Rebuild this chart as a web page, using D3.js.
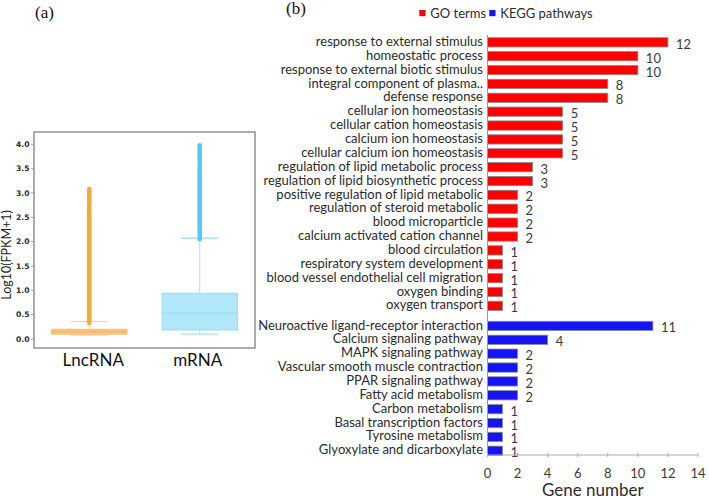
<!DOCTYPE html>
<html><head><meta charset="utf-8">
<script src="https://cdn.jsdelivr.net/npm/d3@7"></script>
<style>html,body{margin:0;padding:0;background:#fff;}svg{display:block;}</style>
</head><body>
<script>
// ---------- Data: panel (a) ----------
const boxCategories = ["LncRNA", "mRNA"];
const boxQ1 = [0.10, 0.185];
const boxMedian = [0.15, 0.53];
const boxQ3 = [0.20, 0.94];
const whiskerLow = [0.08, 0.10];
const whiskerHigh = [0.355, 2.07];
const lncOutlierRanges = [[0.33, 2.58], [2.63, 2.68], [2.74, 3.08]];
const mrnaOutlierRanges = [[2.05, 3.56], [3.61, 3.98]];
const yTicksA = [0, 0.5, 1, 1.5, 2, 2.5, 3, 3.5, 4];

// ---------- Data: panel (b) ----------
const goTerms = ["response to external stimulus", "homeostatic process", "response to external biotic stimulus",
  "integral component of plasma..", "defense response", "cellular ion homeostasis", "cellular cation homeostasis",
  "calcium ion homeostasis", "cellular calcium ion homeostasis", "regulation of lipid metabolic process",
  "regulation of lipid biosynthetic process", "positive regulation of lipid metabolic", "regulation of steroid metabolic",
  "blood microparticle", "calcium activated cation channel", "blood circulation", "respiratory system development",
  "blood vessel endothelial cell migration", "oxygen binding", "oxygen transport"];
const goCounts = [12, 10, 10, 8, 8, 5, 5, 5, 5, 3, 3, 2, 2, 2, 2, 1, 1, 1, 1, 1];
const keggPathways = ["Neuroactive ligand-receptor interaction", "Calcium signaling pathway", "MAPK signaling pathway",
  "Vascular smooth muscle contraction", "PPAR signaling pathway", "Fatty acid metabolism", "Carbon metabolism",
  "Basal transcription factors", "Tyrosine metabolism", "Glyoxylate and dicarboxylate"];
const keggCounts = [11, 4, 2, 2, 2, 2, 1, 1, 1, 1];
const xTicksB = [0, 2, 4, 6, 8, 10, 12, 14];
const legendItems = ["GO terms", "KEGG pathways"];

// ---------- Drawing ----------
const W = 709, H = 499;
const svg = d3.select("body").append("svg").attr("width", W).attr("height", H);
const sans = "Lato, 'Open Sans', sans-serif";

// Panel labels
svg.append("text").attr("x", 35).attr("y", 18).attr("font-family", "'Liberation Serif', serif")
  .attr("font-size", 17).attr("fill", "#111").text("(a)");
svg.append("text").attr("x", 286).attr("y", 14).attr("font-family", "'Liberation Serif', serif")
  .attr("font-size", 17).attr("fill", "#111").text("(b)");

// ===== Panel (a) =====
const frame = {x0: 34, x1: 255, y0: 132, y1: 348};
const yA = d3.scaleLinear().domain([0, 4]).range([339, 144.3]);
const xA = d3.scaleBand().domain(boxCategories).range([frame.x0, frame.x1]).paddingInner(0.32).paddingOuter(0.16);
const colA = [
  {strip: "#F3AA3C", box: "#F6C77F", boxStroke: "#F3BD6C", med: "#F0B560", cap: "#F8D6A3"},
  {strip: "#55C9EF", box: "#B0E8F9", boxStroke: "#93DDF4", med: "#8FDBF3", cap: "#A6E3F6"}
];
const gA = svg.append("g");
// y axis ticks & labels
yTicksA.forEach(t => {
  gA.append("line").attr("x1", 31).attr("x2", frame.x0).attr("y1", yA(t)).attr("y2", yA(t))
    .attr("stroke", "#888").attr("stroke-width", 0.8);
  gA.append("text").attr("x", 29.5).attr("y", yA(t)).attr("dy", "0.35em").attr("text-anchor", "end")
    .attr("font-family", "'DejaVu Sans', sans-serif").attr("font-weight", "bold").attr("font-size", 7.6)
    .attr("fill", "#2a2a2a").text(t.toFixed(1));
});
gA.append("text").attr("transform", "translate(11,255) rotate(-90)").attr("text-anchor", "middle")
  .attr("font-family", sans).attr("font-size", 12.5).attr("fill", "#222").text("Log10(FPKM+1)");

boxCategories.forEach((c, i) => {
  const cx = xA(c) + xA.bandwidth() / 2;
  const bw = xA.bandwidth();
  const col = colA[i];
  // whisker line
  gA.append("line").attr("x1", cx).attr("x2", cx).attr("y1", yA(whiskerLow[i])).attr("y2", yA(whiskerHigh[i]))
    .attr("stroke", col.cap).attr("stroke-width", 1);
  // caps
  [whiskerLow[i], whiskerHigh[i]].forEach(v => {
    gA.append("line").attr("x1", cx - bw / 4).attr("x2", cx + bw / 4).attr("y1", yA(v)).attr("y2", yA(v))
      .attr("stroke", col.cap).attr("stroke-width", 1.3);
  });
  // box
  gA.append("rect").attr("x", cx - bw / 2).attr("width", bw)
    .attr("y", yA(boxQ3[i])).attr("height", yA(boxQ1[i]) - yA(boxQ3[i]))
    .attr("fill", col.box).attr("stroke", col.boxStroke).attr("stroke-width", 1);
  gA.append("line").attr("x1", cx - bw / 2).attr("x2", cx + bw / 2).attr("y1", yA(boxMedian[i])).attr("y2", yA(boxMedian[i]))
    .attr("stroke", col.med).attr("stroke-width", 1);
  // outliers (dense strip of points)
  const ranges = i === 0 ? lncOutlierRanges : mrnaOutlierRanges;
  ranges.forEach(r => {
    gA.append("line").attr("x1", cx).attr("x2", cx).attr("y1", yA(r[0])).attr("y2", yA(r[1]))
      .attr("stroke", col.strip).attr("stroke-width", 4.6).attr("stroke-linecap", "round");
  });
  // category label
  gA.append("text").attr("x", cx + (i === 0 ? 4 : -2)).attr("y", 366).attr("text-anchor", "middle")
    .attr("font-family", sans).attr("font-size", 17).attr("fill", "#111").text(c);
});
gA.append("rect").attr("x", frame.x0).attr("y", frame.y0).attr("width", frame.x1 - frame.x0)
  .attr("height", frame.y1 - frame.y0).attr("fill", "none").attr("stroke", "#8a8a8a").attr("stroke-width", 1.4);

// ===== Panel (b) =====
const xB = d3.scaleLinear().domain([0, 14]).range([487.5, 698]);
const step = 13.87;
const yGO = d3.scaleBand().domain(goTerms).range([35.4, 35.4 + step * goTerms.length]).paddingInner(0.33).paddingOuter(0.165);
const yKG = d3.scaleBand().domain(keggPathways).range([319.0, 319.0 + step * keggPathways.length]).paddingInner(0.33).paddingOuter(0.165);
const axisY = 455;
const gB = svg.append("g");

function drawGroup(labels, counts, yS, color) {
  labels.forEach((lab, i) => {
    const y = yS(lab), h = yS.bandwidth(), cy = y + h / 2;
    gB.append("rect").attr("x", xB(0)).attr("y", y).attr("width", xB(counts[i]) - xB(0)).attr("height", h)
      .attr("fill", color).attr("stroke", "#8c8c8c").attr("stroke-width", 0.8);
    gB.append("text").attr("x", xB(0) - 4.5).attr("y", cy + 3.6).attr("text-anchor", "end")
      .attr("font-family", sans).attr("font-size", 13).attr("fill", "#2b2b2b").text(lab);
    gB.append("text").attr("x", xB(counts[i]) + 8).attr("y", cy + 6.5)
      .attr("font-family", sans).attr("font-size", 13).attr("fill", "#3a3a3a").text(counts[i]);
  });
}
drawGroup(goTerms, goCounts, yGO, "#FF0000");
drawGroup(keggPathways, keggCounts, yKG, "#1414F5");

// axes lines
gB.append("line").attr("x1", xB(0)).attr("x2", xB(0)).attr("y1", 35).attr("y2", axisY)
  .attr("stroke", "#999").attr("stroke-width", 1);
gB.append("line").attr("x1", xB(0)).attr("x2", xB(14)).attr("y1", axisY).attr("y2", axisY)
  .attr("stroke", "#aaa").attr("stroke-width", 1);
xTicksB.forEach(t => {
  gB.append("line").attr("x1", xB(t)).attr("x2", xB(t)).attr("y1", axisY - 2).attr("y2", axisY + 2)
    .attr("stroke", "#aaa").attr("stroke-width", 1);
  gB.append("text").attr("x", xB(t)).attr("y", 478).attr("text-anchor", "middle")
    .attr("font-family", sans).attr("font-size", 13).attr("fill", "#3a3a3a").text(t);
});
gB.append("text").attr("x", (xB(0) + xB(14)) / 2).attr("y", 496).attr("text-anchor", "middle")
  .attr("font-family", sans).attr("font-size", 17).attr("fill", "#2b2b2b").text("Gene number");

// legend
const legendColors = ["#FF0000", "#1414F5"];
const legendX = [419.3, 489.3];
legendItems.forEach((t, i) => {
  gB.append("rect").attr("x", legendX[i]).attr("y", 10).attr("width", 6.2).attr("height", 6.2)
    .attr("fill", legendColors[i]);
  gB.append("text").attr("x", legendX[i] + 11).attr("y", 18).attr("font-family", sans).attr("font-size", 13)
    .attr("fill", "#2b2b2b").text(t);
});
</script>
</body></html>
